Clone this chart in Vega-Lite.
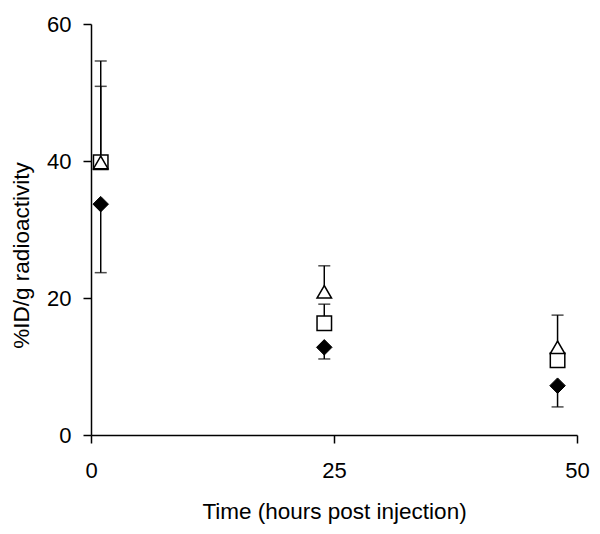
{
  "$schema": "https://vega.github.io/schema/vega-lite/v6.json",
  "autosize": {"type": "none"},
  "padding": {"left": 91, "top": 24, "right": 23, "bottom": 99},
  "width": 486,
  "height": 411,
  "background": "white",
  "config": {
    "view": {"stroke": null},
    "font": "Liberation Sans",
    "axis": {
      "grid": false,
      "domainColor": "black",
      "domainWidth": 1.5,
      "tickColor": "black",
      "tickWidth": 1.5,
      "tickSize": 8,
      "labelColor": "black",
      "labelFont": "Liberation Sans",
      "labelFontSize": 22,
      "titleColor": "black",
      "titleFont": "Liberation Sans",
      "titleFontSize": 22.5,
      "titleFontWeight": "normal"
    }
  },
  "data": {
    "values": [
      {"series": "diamond", "time": 1, "value": 33.7, "err": 23.7},
      {"series": "diamond", "time": 24, "value": 12.8, "err": 11.1},
      {"series": "diamond", "time": 48, "value": 7.2, "err": 4.1},
      {"series": "square", "time": 1, "value": 39.8, "err": 50.9},
      {"series": "square", "time": 24, "value": 16.3, "err": 19.1},
      {"series": "square", "time": 48, "value": 10.9, "err": 11.7},
      {"series": "triangle", "time": 1, "value": 39.8, "err": 54.6},
      {"series": "triangle", "time": 24, "value": 20.9, "err": 24.7},
      {"series": "triangle", "time": 48, "value": 12.8, "err": 17.5}
    ]
  },
  "encoding": {
    "x": {
      "field": "time",
      "type": "quantitative",
      "scale": {"domain": [0, 50], "nice": false},
      "axis": {"values": [0, 25, 50], "title": "Time (hours post injection)", "labelPadding": 17, "titlePadding": 19, "labelFlush": false}
    },
    "y": {
      "field": "value",
      "type": "quantitative",
      "scale": {"domain": [0, 60], "nice": false},
      "axis": {"values": [0, 20, 40, 60], "title": "%ID/g radioactivity", "labelPadding": 12, "titlePadding": 13, "titleY": 231}
    }
  },
  "layer": [
    {
      "mark": {"type": "rule", "color": "black", "strokeWidth": 1.5},
      "encoding": {"y2": {"field": "err"}}
    },
    {
      "mark": {"type": "tick", "orient": "horizontal", "color": "black", "size": 12, "thickness": 1.5},
      "encoding": {"y": {"field": "err", "type": "quantitative"}}
    },
    {
      "transform": [{"filter": "datum.series === 'square'"}],
      "mark": {"type": "point", "shape": "square", "size": 210, "filled": true, "fill": "white", "stroke": "black", "strokeWidth": 1.5, "opacity": 1}
    },
    {
      "transform": [{"filter": "datum.series === 'triangle'"}],
      "mark": {"type": "point", "shape": "triangle-up", "size": 210, "filled": true, "fill": "white", "stroke": "black", "strokeWidth": 1.5, "opacity": 1}
    },
    {
      "transform": [{"filter": "datum.series === 'diamond'"}],
      "mark": {"type": "point", "shape": "diamond", "size": 240, "filled": true, "fill": "black", "stroke": "black", "strokeWidth": 1, "opacity": 1}
    }
  ]
}
